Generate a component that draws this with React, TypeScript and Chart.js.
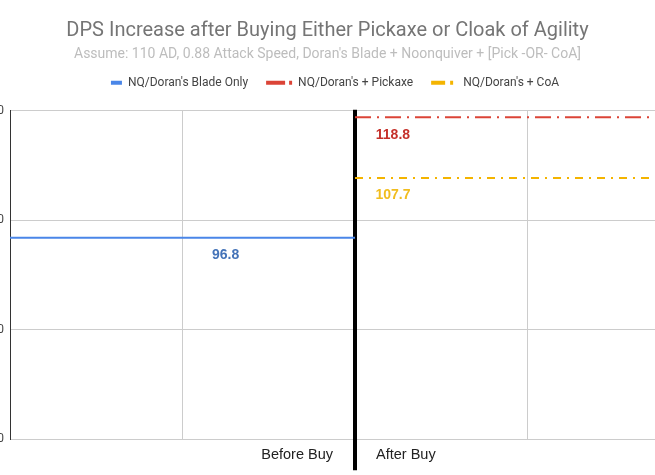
import React, { useEffect, useRef } from "react";
import { Chart, registerables } from "chart.js";

Chart.register(...registerables);

const TITLE = "DPS Increase after Buying Either Pickaxe or Cloak of Agility";
const SUBTITLE = "Assume: 110 AD, 0.88 Attack Speed, Doran's Blade + Noonquiver + [Pick -OR- CoA]";

const seriesNames = ["NQ/Doran's Blade Only", "NQ/Doran's + Pickaxe", "NQ/Doran's + CoA"];
const seriesValues = [96.8, 118.8, 107.7];
const seriesStartX = [0, 2, 2];
const seriesEndX = [2, 3.92, 3.92];
const seriesLabelX = [1.25, 2.22, 2.22];
const seriesColors = ["#4a86e8", "#db4437", "#f4b400"];
const labelColors = ["#4473b8", "#c5302a", "#f1bd1f"];
const seriesDash: number[][] = [[], [16, 6, 2, 6], [8, 6, 2, 6]];
const legendDash: number[][] = [[0, 15, 11, 100], [19, 4, 3, 100], [14, 5, 3, 100]];

const buyX = 2;
const dividerTop = 120.2;
const dividerBottom = 54.3;
const phaseLabels = ["Before Buy", "After Buy"];

const xGridValues = [0, 1, 2, 3];
const xMin = 0;
const xMax = 3.913;
const yMin = 60;
const yMax = 120;
const yStep = 20;

const legendExtraHeight = 12;

const legendSpacerPlugin = {
  id: "legendSpacer",
  beforeLayout(chart: any) {
    const lg = chart.legend;
    if (lg && !lg.__spaced) {
      const orig = lg.fit.bind(lg);
      lg.fit = () => {
        orig();
        lg.height += legendExtraHeight;
      };
      lg.__spaced = true;
    }
  },
};

const labelsPlugin = {
  id: "valueLabels",
  afterDatasetsDraw(chart: any) {
    const { ctx, scales } = chart;
    const x = scales.x;
    const y = scales.y;
    ctx.save();
    ctx.font = "bold 14px 'Liberation Sans', Arial, sans-serif";
    ctx.textAlign = "center";
    ctx.textBaseline = "middle";
    seriesValues.forEach((v, i) => {
      ctx.fillStyle = labelColors[i];
      ctx.fillText(v.toFixed(1), x.getPixelForValue(seriesLabelX[i]), y.getPixelForValue(v) + 17.5);
    });
    ctx.font = "14.5px 'Liberation Sans', Arial, sans-serif";
    ctx.fillStyle = "#222222";
    const px = x.getPixelForValue(buyX);
    const py = y.bottom + 16;
    ctx.textAlign = "right";
    ctx.fillText(phaseLabels[0], px - 22, py);
    ctx.textAlign = "left";
    ctx.fillText(phaseLabels[1], px + 21, py);
    ctx.restore();
  },
};

export default function App() {
  const ref = useRef<HTMLCanvasElement | null>(null);

  useEffect(() => {
    if (!ref.current) return;
    const datasets: any[] = seriesNames.map((name, i) => ({
      label: name,
      data: [
        { x: seriesStartX[i], y: seriesValues[i] },
        { x: seriesEndX[i], y: seriesValues[i] },
      ],
      borderColor: seriesColors[i],
      backgroundColor: seriesColors[i],
      borderWidth: 2,
      borderDash: seriesDash[i],
      pointRadius: 0,
      fill: false,
    }));
    datasets.push({
      label: "divider",
      data: [
        { x: buyX, y: dividerTop },
        { x: buyX, y: dividerBottom },
      ],
      borderColor: "#000000",
      backgroundColor: "#000000",
      borderWidth: 4,
      pointRadius: 0,
      clip: false,
      fill: false,
    });

    const chart = new Chart(ref.current, {
      type: "line",
      data: { datasets },
      options: {
        animation: false,
        responsive: false,
        devicePixelRatio: 1,
        layout: { padding: 0 },
        plugins: {
          title: {
            display: true,
            text: TITLE,
            color: "#757575",
            font: { family: "Roboto", size: 20, weight: "normal" },
            padding: { top: 19, bottom: 3 },
          },
          subtitle: {
            display: true,
            text: SUBTITLE,
            color: "#bdbdbd",
            font: { family: "Roboto", size: 14, weight: "normal" },
            padding: { top: 0, bottom: -4 },
          },
          legend: {
            display: true,
            position: "top",
            labels: {
              usePointStyle: true,
              pointStyle: "line",
              pointStyleWidth: 26,
              padding: 18,
              color: "#444444",
              font: { family: "Roboto", size: 12 },
              generateLabels: (c: any) =>
                Chart.defaults.plugins.legend.labels
                  .generateLabels(c)
                  .filter((it: any) => it.text !== "divider")
                  .map((it: any, i: number) => ({
                    ...it,
                    lineDash: legendDash[i],
                    lineWidth: 4,
                    pointStyle: "line",
                  })),
            },
          },
          tooltip: { enabled: false },
        },
        scales: {
          x: {
            type: "linear",
            min: xMin,
            max: xMax,
            afterBuildTicks: (s: any) => {
              s.ticks = xGridValues.map((v) => ({ value: v }));
            },
            afterFit: (s: any) => {
              s.height = 36;
            },
            ticks: { display: false },
            grid: {
              color: (c: any) => (c.tick && c.tick.value === 0 ? "rgba(0,0,0,0)" : "#cccccc"),
              drawTicks: false,
            },
            border: { color: "#cccccc" },
          },
          y: {
            min: yMin,
            max: yMax,
            afterFit: (s: any) => {
              s.width = 40;
            },
            ticks: {
              stepSize: yStep,
              color: "#444444",
              font: { family: "Roboto", size: 12 },
              padding: 6,
            },
            grid: { color: "#cccccc", drawTicks: false },
            border: { color: "#333333" },
          },
        },
      },
      plugins: [legendSpacerPlugin, labelsPlugin],
    });
    return () => chart.destroy();
  }, []);

  return (
    <div
      style={{
        position: "fixed",
        left: 0,
        top: 0,
        width: 655,
        height: 475,
        overflow: "hidden",
        background: "#ffffff",
      }}
    >
      <canvas
        ref={ref}
        width={715}
        height={475}
        style={{ position: "absolute", left: -30, top: 0, width: 715, height: 475 }}
      />
    </div>
  );
}
